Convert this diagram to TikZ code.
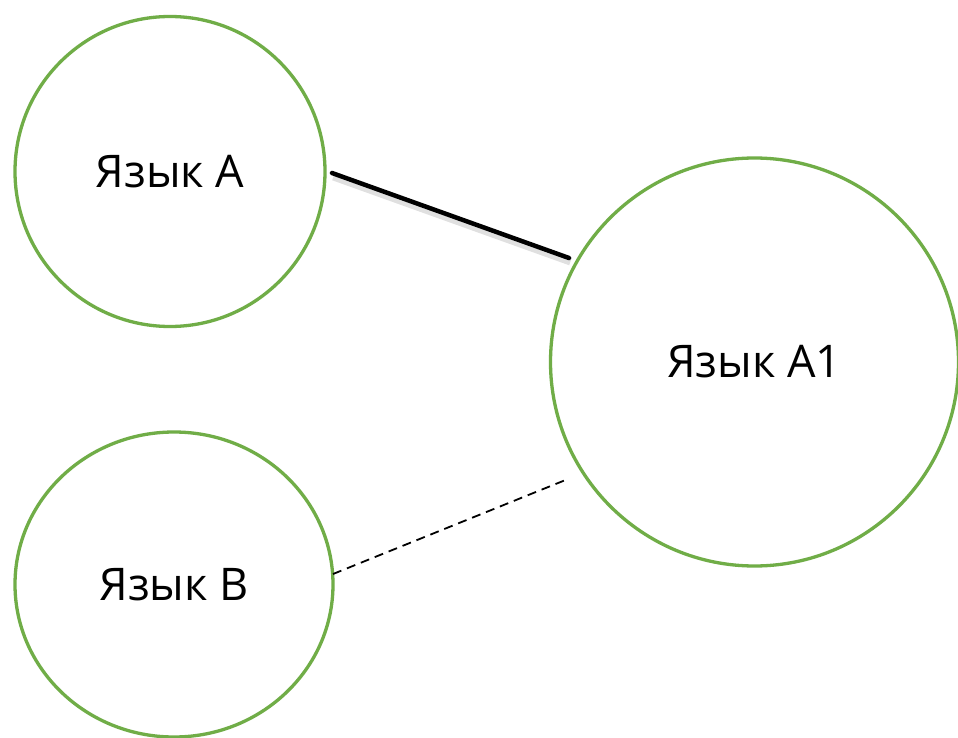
\documentclass[tikz,border=0pt]{standalone}
\usepackage{fontspec}
\setmainfont{Open Sans}
\usetikzlibrary{shapes.geometric}
\definecolor{ringgreen}{HTML}{70AD47}
\begin{document}
\begin{tikzpicture}[x=1pt,y=-1pt,
  ring/.style={draw=ringgreen, line width=3.3pt, fill=white, inner sep=0pt, font=\fontsize{45}{52}\selectfont},
  solidlink/.style={line width=4.5pt, line cap=round, black,
    preaction={draw, black, opacity=0.12, line width=8pt, transform canvas={shift={(1.5pt,-3.5pt)}}}},
  dashlink/.style={line width=1.8pt, black, dash pattern=on 9pt off 6pt}]
\useasboundingbox[fill=white] (0,0) rectangle (958,738);
\node[ring, circle, minimum size=310pt] (A) at (170,171.5) {Язык А};
\node[ring, circle, minimum size=408pt] (A1) at (754.5,362) {Язык А1};
\node[ring, ellipse, minimum width=318pt, minimum height=305pt] (B) at (174,584.5) {Язык В};
\coordinate (sa) at (332,173);
\coordinate (ea) at (569,258);
\coordinate (sb) at (333,574);
\coordinate (eb) at (568,479);
\draw[solidlink] (sa) -- (ea);
\draw[dashlink] (sb) -- (eb);
\end{tikzpicture}
\end{document}
